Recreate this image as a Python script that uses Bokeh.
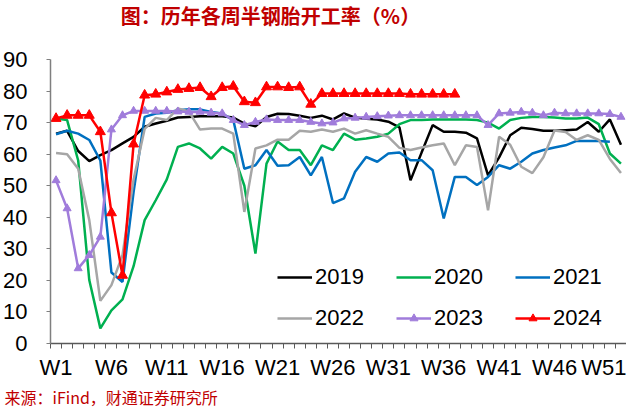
from bokeh.plotting import figure
from bokeh.models import FixedTicker, Legend, LegendItem, Title, Label, Range1d
from bokeh.embed import file_html
from bokeh.resources import INLINE

# ---------------- data ----------------
tick_weeks = [1, 6, 11, 16, 21, 26, 31, 36, 41, 46, 51]
tick_labels = ["W1", "W6", "W11", "W16", "W21", "W26", "W31", "W36", "W41", "W46", "W51"]
y_ticks = [0, 10, 20, 30, 40, 50, 60, 70, 80, 90]

y2019 = [66.5, 67.4, 61.0, 57.8, 59.7, 61.3, 63.4, 65.5, 68.7, 69.7,
         70.6, 71.6, 71.8, 72.0, 72.0, 72.0, 71.6, 69.7, 68.8, 71.8,
         72.8, 72.7, 72.2, 71.5, 72.2, 71.0, 72.9, 71.6, 71.2, 71.0,
         70.3, 68.5, 51.7, 60.5, 69.2, 67.1, 67.1, 66.8, 65.0, 53.3,
         59.0, 66.0, 68.4, 68.0, 67.4, 67.4, 67.6, 67.8, 70.2, 67.1,
         71.0, 63.0]
y2020 = [71.3, 70.8, 58.0, 20.1, 4.8, 10.5, 14.0, 24.5, 39.1, 45.4,
         52.0, 62.3, 63.4, 61.8, 58.6, 62.3, 60.2, 50.0, 28.5, 57.0,
         64.0, 61.3, 61.3, 56.5, 62.8, 61.3, 66.5, 64.6, 65.0, 65.5,
         66.5, 69.5, 70.8, 70.8, 71.0, 71.0, 71.0, 71.0, 70.8, 70.0,
         68.1, 70.8, 71.5, 71.8, 71.8, 71.6, 71.3, 71.3, 71.6, 69.5,
         60.2, 57.0]
y2021 = [66.3, 67.4, 66.5, 64.5, 58.0, 22.5, 19.5, 48.0, 71.8, 72.9,
         73.1, 73.9, 74.2, 74.2, 73.4, 72.9, 70.8, 55.4, 56.5, 61.3,
         56.3, 56.5, 59.1, 53.3, 59.1, 44.5, 46.0, 54.4, 59.1, 57.6,
         60.2, 60.5, 58.1, 58.1, 54.9, 39.6, 52.8, 52.8, 50.2, 52.8,
         56.5, 55.4, 57.6, 60.2, 61.3, 62.1, 62.8, 64.2, 64.2, 64.2,
         63.9]
y2022 = [60.4, 60.0, 55.4, 39.1, 13.5, 18.5, 28.0, 52.0, 68.0, 71.5,
         70.8, 74.5, 73.5, 67.8, 68.1, 68.1, 66.5, 41.7, 61.8, 62.8,
         64.6, 64.6, 67.4, 67.1, 67.8, 67.1, 68.1, 66.5, 67.6, 66.5,
         65.5, 62.0, 61.3, 62.1, 62.8, 63.4, 56.5, 62.8, 62.3, 42.2,
         65.5, 63.0, 56.0, 54.0, 59.0, 67.5, 67.0, 64.5, 66.0, 64.5,
         58.5, 54.0]
y2023 = [51.7, 42.8, 23.8, 28.0, 33.8, 67.8, 72.3, 73.7, 73.7, 73.7,
         73.7, 73.5, 73.4, 73.4, 73.1, 72.9, 70.8, 69.2, 70.2, 71.0,
         70.8, 70.8, 70.8, 70.2, 69.7, 70.0, 71.3, 71.5, 71.8, 72.0,
         72.2, 72.3, 72.3, 72.3, 72.3, 72.3, 72.3, 72.3, 72.3, 69.2,
         72.9, 73.1, 73.4, 73.1, 72.3, 73.1, 72.9, 72.9, 72.9, 72.9,
         72.7, 71.8]
y2024 = [71.3, 72.3, 72.3, 72.3, 67.1, 41.4, 21.6, 63.2, 78.7, 79.0,
         79.7, 80.5, 80.8, 81.1, 78.2, 81.1, 81.5, 76.6, 76.3, 81.3,
         81.3, 81.1, 81.3, 75.8, 79.2, 79.2, 79.2, 79.2, 79.2, 79.2,
         79.2, 79.2, 79.0, 79.0, 79.0, 79.0, 79.0]

years = ["2019", "2020", "2021", "2022", "2023", "2024"]
series = [y2019, y2020, y2021, y2022, y2023, y2024]
colors = ["#000000", "#00B050", "#0070C0", "#A6A6A6", "#A07CDB", "#FF0000"]
marker_sizes = [0, 0, 0, 0, 8, 10]

title_text = "图：历年各周半钢胎开工率（%）"
source_text = "来源：iFind，财通证券研究所"

# ---------------- figure ----------------
# frame spans from the canvas top down to the x axis; the y axis line is
# bounded to 0..90 and the extra headroom holds the chart title
FRAME_H = 343
PLOT_H = 284
p = figure(frame_width=576, frame_height=FRAME_H, output_backend="svg",
           toolbar_location=None,
           x_range=Range1d(0.5, 52.5), y_range=Range1d(0, 90 * FRAME_H / PLOT_H),
           min_border_left=48, min_border_right=0, min_border_top=0,
           min_border_bottom=0)
p.outline_line_color = None
p.xgrid.visible = False
p.ygrid.visible = False
p.background_fill_color = "white"

renderers = {}
for yr, ys, c, ms in zip(years, series, colors, marker_sizes):
    xs = list(range(1, len(ys) + 1))
    rl = p.line(xs, ys, line_color=c, line_width=2.5)
    rs = []
    if ms:
        rs = [p.scatter(xs, ys, marker="triangle", size=ms, fill_color=c,
                        line_color=c)]
    renderers[yr] = [rl] + rs

# axes
xa = p.xaxis[0]
xa.ticker = FixedTicker(ticks=tick_weeks,
                        minor_ticks=[w + 0.5 for w in range(0, 53)])
xa.major_label_overrides = {w: l for w, l in zip(tick_weeks, tick_labels)}
xa.major_tick_out = 0
xa.major_tick_in = 0
xa.minor_tick_out = 5
xa.minor_tick_in = 0
xa.axis_line_color = "#595959"
xa.minor_tick_line_color = "#595959"
xa.axis_line_width = 1.5
xa.major_label_standoff = 6
xa.major_label_text_font = "Liberation Sans"
xa.major_label_text_font_size = "22px"
xa.major_label_text_color = "#000000"

ya = p.yaxis[0]
ya.ticker = FixedTicker(ticks=y_ticks, minor_ticks=[])
ya.bounds = (0, 90)
ya.major_tick_out = 4
ya.major_tick_in = 0
ya.minor_tick_out = 0
ya.minor_tick_in = 0
ya.axis_line_color = "#7F7F7F"
ya.major_tick_line_color = "#7F7F7F"
ya.axis_line_width = 1.5
ya.major_label_standoff = 19
ya.major_label_text_font = "Liberation Sans"
ya.major_label_text_font_size = "22px"
ya.major_label_text_color = "#000000"

# legends: two rows of three
def make_legend(yrs, loc):
    leg = Legend(items=[LegendItem(label=y, renderers=renderers[y]) for y in yrs],
                 orientation="horizontal", location=loc)
    leg.label_text_font = "Liberation Sans"
    leg.label_text_font_size = "22px"
    leg.label_text_color = "#000000"
    leg.glyph_width = 35
    leg.glyph_height = 20
    leg.label_height = 20
    leg.label_standoff = 3
    leg.spacing = 32
    leg.padding = 0
    leg.margin = 0
    leg.border_line_alpha = 0
    leg.background_fill_alpha = 0
    return leg

p.add_layout(make_legend(years[:3], (227, 53)))
p.add_layout(make_legend(years[3:], (227, 12)))

# chart title inside the headroom of the frame
p.add_layout(Label(x=220, y=FRAME_H, x_units="screen", y_units="screen",
                   text=title_text, text_align="center", text_baseline="top",
                   text_font="Noto Sans CJK SC", text_font_size="20px",
                   text_font_style="bold", text_color="#C00000"))
# source note below the x axis
p.add_layout(Title(text=source_text, align="left", offset=-46, standoff=0,
                   text_font="Noto Sans CJK SC", text_font_size="16px",
                   text_font_style="normal", text_color="#C00000"), "below")

open("out.html", "w").write(file_html(p, INLINE))
